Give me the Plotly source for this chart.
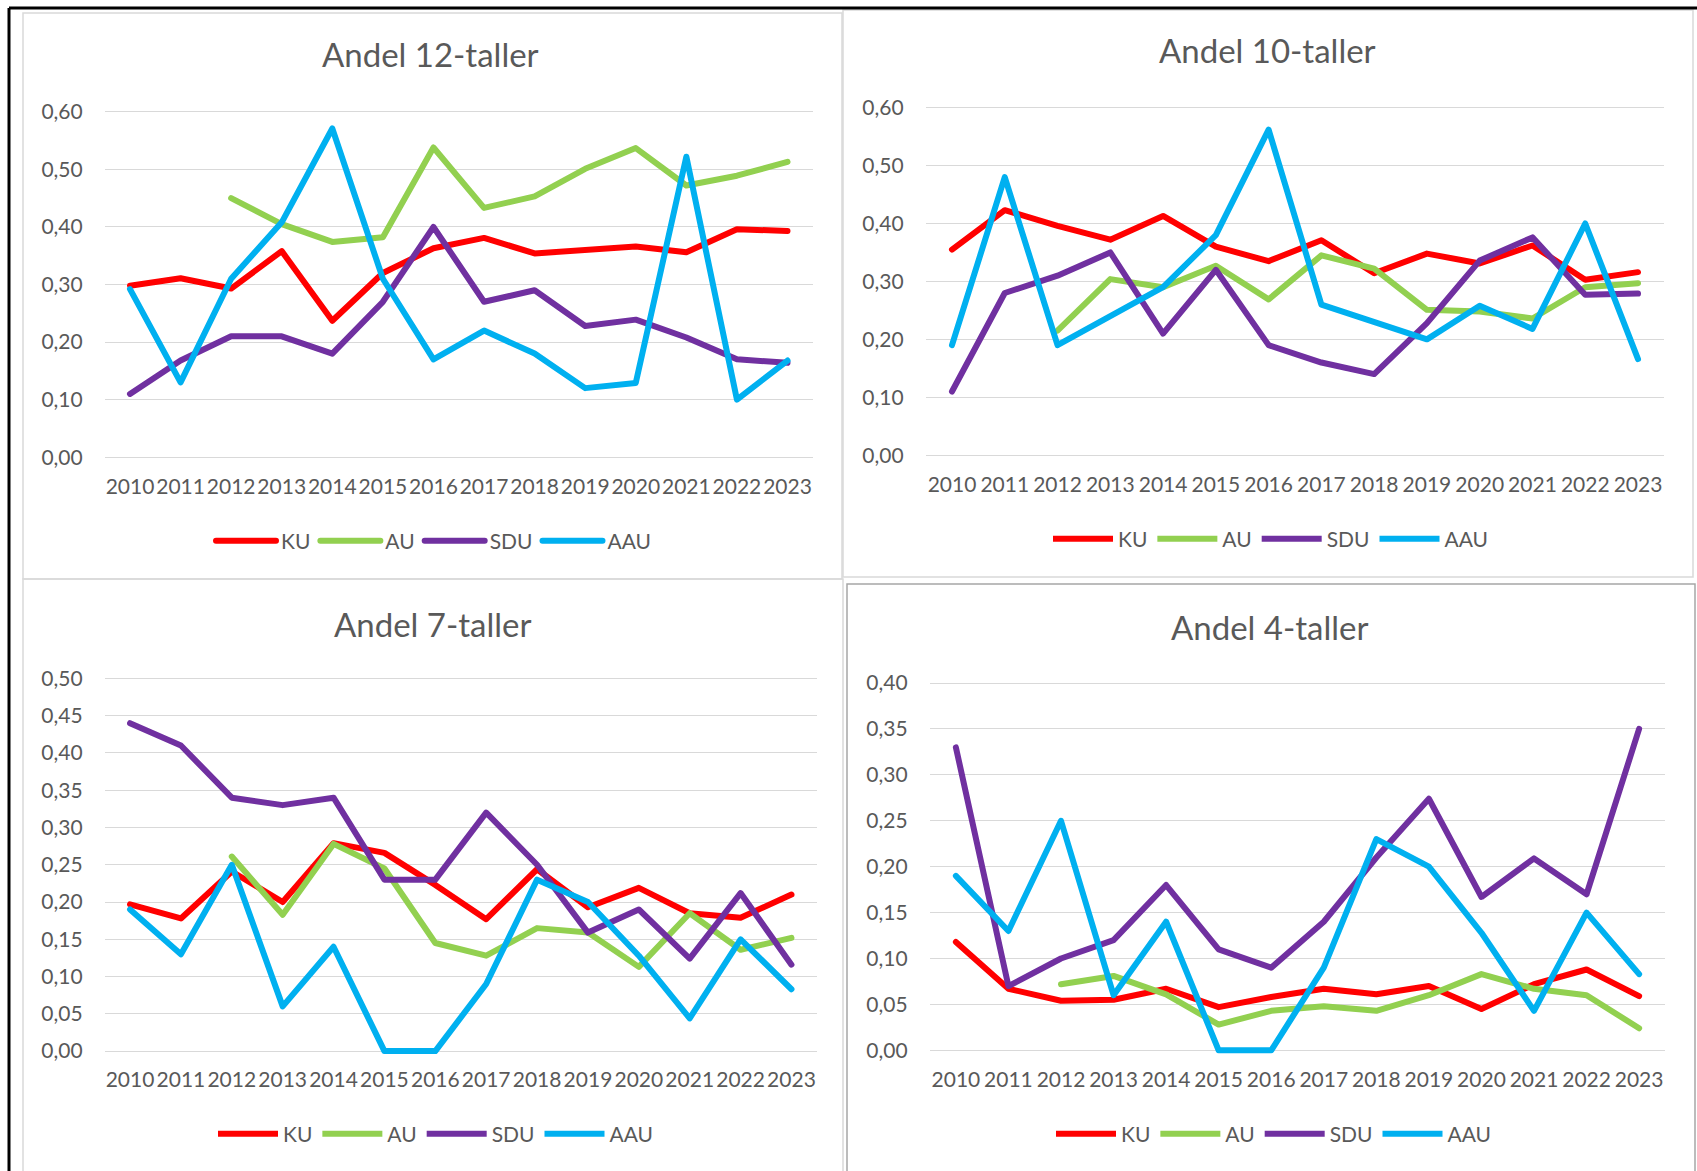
import plotly.graph_objects as go

# ---------------- data ----------------
years = [str(y) for y in range(2010, 2024)]
series_names = ["KU", "AU", "SDU", "AAU"]
series_colors = ["#FF0000", "#92D050", "#7030A0", "#00B0F0"]

# Andel 12-taller
ku_12 = [0.298, 0.311, 0.293, 0.358, 0.237, 0.320, 0.363, 0.381, 0.354, 0.360, 0.366, 0.356, 0.396, 0.393]
au_12 = [None, None, 0.450, 0.405, 0.374, 0.382, 0.538, 0.433, 0.453, 0.501, 0.537, 0.472, 0.489, 0.513]
sdu_12 = [0.110, 0.168, 0.210, 0.210, 0.180, 0.270, 0.400, 0.270, 0.290, 0.228, 0.239, 0.208, 0.170, 0.164]
aau_12 = [0.292, 0.130, 0.310, 0.408, 0.571, 0.310, 0.170, 0.220, 0.180, 0.120, 0.129, 0.522, 0.100, 0.168]

# Andel 10-taller
ku_10 = [0.355, 0.423, 0.396, 0.372, 0.413, 0.360, 0.335, 0.371, 0.314, 0.348, 0.331, 0.362, 0.303, 0.316]
au_10 = [None, None, 0.215, 0.304, 0.290, 0.327, 0.269, 0.345, 0.322, 0.251, 0.248, 0.236, 0.290, 0.297]
sdu_10 = [0.110, 0.280, 0.310, 0.350, 0.210, 0.320, 0.190, 0.160, 0.140, 0.228, 0.336, 0.376, 0.277, 0.279]
aau_10 = [0.190, 0.480, 0.190, 0.240, 0.290, 0.380, 0.562, 0.260, 0.229, 0.200, 0.258, 0.218, 0.400, 0.166]

# Andel 7-taller
ku_7 = [0.197, 0.178, 0.241, 0.200, 0.279, 0.266, 0.223, 0.177, 0.244, 0.193, 0.219, 0.185, 0.179, 0.210]
au_7 = [None, None, 0.261, 0.183, 0.278, 0.245, 0.145, 0.128, 0.165, 0.159, 0.113, 0.185, 0.136, 0.152]
sdu_7 = [0.440, 0.410, 0.340, 0.330, 0.340, 0.230, 0.230, 0.320, 0.250, 0.159, 0.190, 0.124, 0.212, 0.116]
aau_7 = [0.190, 0.130, 0.250, 0.060, 0.140, 0.000, 0.000, 0.090, 0.230, 0.200, 0.128, 0.044, 0.150, 0.083]

# Andel 4-taller
ku_4 = [0.118, 0.067, 0.054, 0.055, 0.067, 0.047, 0.058, 0.067, 0.061, 0.070, 0.045, 0.072, 0.088, 0.059]
au_4 = [None, None, 0.072, 0.081, 0.061, 0.028, 0.043, 0.048, 0.043, 0.060, 0.083, 0.067, 0.060, 0.024]
sdu_4 = [0.330, 0.070, 0.100, 0.120, 0.180, 0.110, 0.090, 0.140, 0.210, 0.274, 0.167, 0.209, 0.170, 0.350]
aau_4 = [0.190, 0.130, 0.250, 0.060, 0.140, 0.000, 0.000, 0.090, 0.230, 0.200, 0.128, 0.043, 0.150, 0.083]

titles = ["Andel 12-taller", "Andel 10-taller", "Andel 7-taller", "Andel 4-taller"]
panel_data = [
    [ku_12, au_12, sdu_12, aau_12],
    [ku_10, au_10, sdu_10, aau_10],
    [ku_7, au_7, sdu_7, aau_7],
    [ku_4, au_4, sdu_4, aau_4],
]
y_ticks = [
    [0.0, 0.1, 0.2, 0.3, 0.4, 0.5, 0.6],
    [0.0, 0.1, 0.2, 0.3, 0.4, 0.5, 0.6],
    [0.0, 0.05, 0.1, 0.15, 0.2, 0.25, 0.3, 0.35, 0.4, 0.45, 0.5],
    [0.0, 0.05, 0.1, 0.15, 0.2, 0.25, 0.3, 0.35, 0.4],
]

# ---------------- layout geometry (pixels of the 1697x1171 page) ----------------
W, H = 1697, 1171
FONT = "Lato"
TXT = "#595959"
GRID = "#D9D9D9"


def fx(x):
    return x / W


def fy(y):
    return 1 - y / H


geo = [
    dict(x0=104.7, x1=812.8, yz=456.0, yt=110.0, top=0.6, pad=0.02,
         title=(430, 52), legend=(434, 540)),
    dict(x0=925.6, x1=1664.4, yz=454.0, yt=105.8, top=0.6, pad=0.02,
         title=(1267, 48), legend=(1271, 538)),
    dict(x0=104.6, x1=816.9, yz=1050.9, yt=677.6, top=0.5, pad=0.015,
         title=(433, 623), legend=(436, 1134)),
    dict(x0=929.6, x1=1665.4, yz=1050.1, yt=682.2, top=0.4, pad=0.0125,
         title=(1269, 626), legend=(1274, 1134)),
]

fig = go.Figure()
layout = dict(
    height=H, autosize=True,
    margin=dict(l=0, r=0, t=0, b=0, pad=0),
    paper_bgcolor="white", plot_bgcolor="white",
    separators=",.",
    font=dict(family=FONT, color=TXT, size=21),
    showlegend=True,
)
annotations = []
shapes = []

for i in range(4):
    g = geo[i]
    n = "" if i == 0 else str(i + 1)
    xa, ya = "x" + n, "y" + n
    leg = "legend" + n
    ppu = (g["yz"] - g["yt"]) / g["top"]
    ylo = g["yz"] + g["pad"] * ppu
    yhi = g["yt"] - g["pad"] * ppu
    for name, color, vals in zip(series_names, series_colors, panel_data[i]):
        fig.add_trace(go.Scatter(
            x=years, y=vals, name=name, mode="lines",
            line=dict(color=color, width=6),
            xaxis=xa, yaxis=ya, legend=leg, connectgaps=False,
            hoverinfo="skip",
        ))
    layout["xaxis" + n] = dict(
        domain=[fx(g["x0"]), fx(g["x1"])], anchor=ya,
        type="category", range=[-0.5, len(years) - 0.5],
        showgrid=False, showline=False, zeroline=False,
        ticks="", tickangle=0,
        tickfont=dict(family=FONT, size=21, color=TXT),
        ticklabelstandoff=3, fixedrange=True,
    )
    layout["yaxis" + n] = dict(
        domain=[fy(ylo), fy(yhi)], anchor=xa,
        range=[-g["pad"], g["top"] + g["pad"]],
        tickvals=y_ticks[i], tickformat=".2f",
        showgrid=True, gridcolor=GRID, gridwidth=1.4,
        showline=False, zeroline=False, ticks="",
        tickfont=dict(family=FONT, size=21, color=TXT),
        ticklabelstandoff=21, fixedrange=True,
    )
    layout[leg] = dict(
        orientation="h", x=fx(g["legend"][0]), y=fy(g["legend"][1]),
        xanchor="center", yanchor="middle",
        font=dict(family=FONT, size=21, color=TXT),
        bgcolor="rgba(0,0,0,0)", itemwidth=60,
        tracegroupgap=0,
    )
    annotations.append(dict(
        text=titles[i], x=fx(g["title"][0]), y=fy(g["title"][1]),
        xref="paper", yref="paper", xanchor="center", yanchor="middle",
        showarrow=False, font=dict(family=FONT, size=33, color=TXT),
    ))

# panel frames
frames = [
    (23, 11, 842, 578, "#D9D9D9"),
    (843, 8, 1693, 576, "#D9D9D9"),
    (23, 578, 843, 1200, "#D9D9D9"),
    (847, 583, 1695, 1200, "#A6A6A6"),
]
for x0, y0, x1, y1, c in frames:
    shapes.append(dict(type="rect", xref="paper", yref="paper",
                       x0=fx(x0), x1=fx(x1), y0=fy(y1), y1=fy(y0),
                       line=dict(color=c, width=1.5), fillcolor="rgba(0,0,0,0)",
                       layer="below"))
# outer black frame (top and left)
shapes.append(dict(type="line", xref="paper", yref="paper",
                   x0=fx(9), x1=1.0, y0=fy(6), y1=fy(6),
                   line=dict(color="black", width=3)))
shapes.append(dict(type="line", xref="paper", yref="paper",
                   x0=fx(9), x1=fx(9), y0=fy(6), y1=fy(1200),
                   line=dict(color="black", width=3)))

layout["annotations"] = annotations
layout["shapes"] = shapes
fig.update_layout(**layout)

fig.write_html(
    "out.html",
    config=dict(displayModeBar=False, responsive=True),
    post_script=(
        "var st=document.createElement('style');"
        "st.textContent='.scatterlayer .js-line, .legend .js-line"
        "{stroke-linejoin:round;stroke-linecap:round;}';"
        "document.head.appendChild(st);"
        "document.documentElement.style.margin='0';"
        "document.documentElement.style.overflow='hidden';"
        "document.body.style.margin='0';document.body.style.padding='0';"
        "document.body.style.overflow='hidden';"
        "var gd=document.getElementById('{plot_id}');"
        "Plotly.Plots.resize(gd);"
    ),
)
